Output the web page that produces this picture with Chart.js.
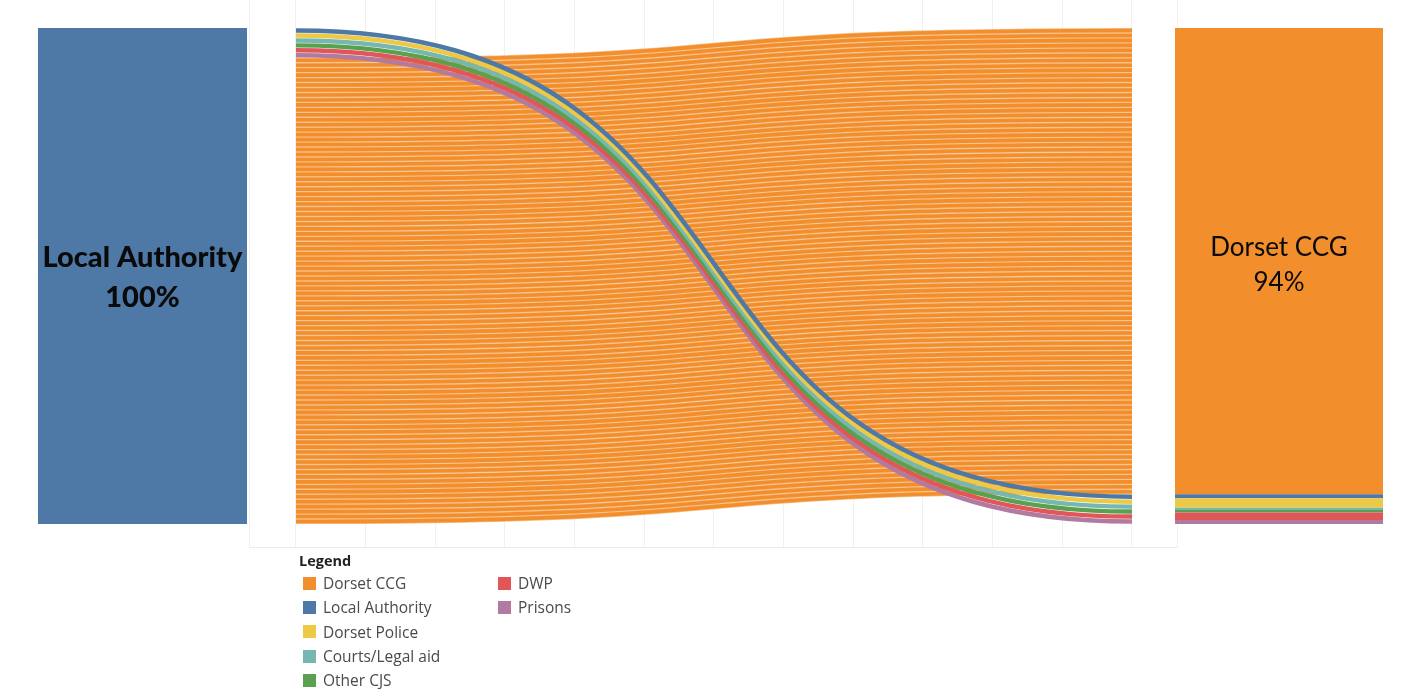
<!DOCTYPE html>
<html>
<head>
<meta charset="utf-8">
<script src="https://cdn.jsdelivr.net/npm/chart.js@4.4.1/dist/chart.umd.min.js"></script>
<style>
  html, body { margin: 0; padding: 0; background: #ffffff; }
  #wrap { position: relative; width: 1423px; height: 689px; overflow: hidden; }
  #c { position: absolute; left: 0; top: 0; }
  #legend { position: absolute; left: 299px; top: 551px; font-family: "Open Sans", "Noto Sans", sans-serif; color: #4a4a4a; }
  #legend .title { font-weight: bold; color: #222; font-size: 14.5px; height: 20px; line-height: 20px; }
  #legend .cols { display: flex; }
  #legend .col { width: 195px; }
  #legend .item { height: 24.3px; line-height: 24.3px; font-size: 15.5px; white-space: nowrap; display: flex; align-items: center; }
  #legend .sw { width: 13px; height: 13px; margin: 0 7px 0 4px; flex: none; }
</style>
</head>
<body>
<div id="wrap">
  <canvas id="c" width="1423" height="689"></canvas>
  <div id="legend"></div>
</div>
<script>
// ---------------- DATA ----------------
const sourceName = 'Local Authority';
const sourceShare = 100;                       // % of spend at the source node
const destinations = ['Dorset CCG', 'Local Authority', 'Dorset Police', 'Courts/Legal aid', 'Other CJS', 'DWP', 'Prisons'];
const destinationShares = [94.0, 0.8, 1.9, 0.5, 0.5, 1.5, 0.8];   // % of spend, read from right-hand stack
const flowLineCounts = [94, 1, 1, 1, 1, 1, 1];                   // number of flow strands drawn per destination
const leftOrder = [1, 2, 3, 4, 5, 6, 0];       // top-to-bottom strand order at the source
const rightOrder = [0, 1, 2, 3, 4, 5, 6];      // top-to-bottom order at the destinations
const legendColumns = [[0, 1, 2, 3, 4], [5, 6]];
const labelTexts = { source: ['Local Authority', '100%'], dest: ['Dorset CCG', '94%'] };

// ---------------- STYLE / LAYOUT ----------------
const colors = ['#f28e2b', '#4e79a7', '#edc948', '#76b7b2', '#59a14f', '#e15759', '#b07aa1'];
const stripeGapColor = '#f7bd84';
const sourceColor = '#4e79a7';
const FLOW_X0 = 0, FLOW_X1 = 12;               // flow spans 12 grid columns
const SRC_X = [-3.703, -0.703];
const DST_X = [12.617, 15.603];
const PANE_X = [-0.66, 12.66];

// ---------------- DATASETS ----------------
const datasets = [];
datasets.push({
  label: sourceName,
  data: [{ x: SRC_X[0], y: sourceShare }, { x: SRC_X[1], y: sourceShare }],
  fill: { value: 0 },
  backgroundColor: sourceColor,
  borderColor: sourceColor,
  borderWidth: 0,
  pointRadius: 0,
  tension: 0
});
// right stack, built from the bottom upwards
let lower = 0;
const segBounds = {};
for (let i = rightOrder.length - 1; i >= 0; i--) {
  const d = rightOrder[i];
  const upper = lower + destinationShares[d];
  segBounds[d] = [lower, upper];
  datasets.push({
    label: destinations[d],
    data: [{ x: DST_X[0], y: upper }, { x: DST_X[1], y: upper }],
    fill: { value: lower },
    backgroundColor: colors[d],
    borderColor: colors[d],
    borderWidth: 0,
    pointRadius: 0,
    tension: 0
  });
  lower = upper;
}

// ---------------- PLUGINS ----------------
function slotPositions(order) {
  const total = flowLineCounts.reduce((a, b) => a + b, 0);
  const unit = sourceShare / total;
  const pos = {};
  let k = 0;
  order.forEach(d => {
    pos[d] = [];
    for (let j = 0; j < flowLineCounts[d]; j++) {
      pos[d].push(sourceShare - (k + 0.5) * unit);
      k++;
    }
  });
  return { pos, unit };
}

const linkPlugin = {
  id: 'sankeyLinks',
  beforeDatasetsDraw(chart) {
    const { ctx, scales: { x, y } } = chart;
    const L = slotPositions(leftOrder), R = slotPositions(rightOrder);
    const px0 = x.getPixelForValue(FLOW_X0), px1 = x.getPixelForValue(FLOW_X1);
    const w = px1 - px0;
    const pitch = Math.abs(y.getPixelForValue(0) - y.getPixelForValue(L.unit));
    ctx.save();
    ctx.lineCap = 'butt';
    function strand(d, j) {
      const y0 = y.getPixelForValue(L.pos[d][j]);
      const y1 = y.getPixelForValue(R.pos[d][j]);
      ctx.beginPath();
      ctx.moveTo(px0, y0);
      ctx.bezierCurveTo(px0 + 0.6 * w, y0, px1 - 0.6 * w, y1, px1, y1);
      ctx.stroke();
    }
    // pale underlay for the main flow so the gaps read as light orange
    ctx.strokeStyle = stripeGapColor;
    ctx.lineWidth = pitch * 1.05;
    for (let j = 0; j < flowLineCounts[0]; j++) strand(0, j);
    ctx.strokeStyle = colors[0];
    ctx.lineWidth = pitch * 0.72;
    for (let j = 0; j < flowLineCounts[0]; j++) strand(0, j);
    // small flows on top
    [6, 5, 4, 3, 2, 1].forEach(d => {
      ctx.strokeStyle = colors[d];
      ctx.lineWidth = pitch * 0.9;
      for (let j = 0; j < flowLineCounts[d]; j++) strand(d, j);
    });
    // bottom pane line
    ctx.strokeStyle = '#ececec';
    ctx.lineWidth = 1;
    const by = Math.round(chart.chartArea.bottom) - 0.5;
    ctx.beginPath();
    ctx.moveTo(x.getPixelForValue(PANE_X[0]), by);
    ctx.lineTo(x.getPixelForValue(PANE_X[1]), by);
    ctx.stroke();
    ctx.restore();
  }
};

const labelPlugin = {
  id: 'nodeLabels',
  afterDatasetsDraw(chart) {
    const { ctx, scales: { x, y } } = chart;
    ctx.save();
    ctx.textAlign = 'center';
    ctx.textBaseline = 'middle';
    ctx.fillStyle = '#0a0a0a';
    // source label
    const sx = x.getPixelForValue((SRC_X[0] + SRC_X[1]) / 2);
    const sy = y.getPixelForValue(sourceShare / 2);
    ctx.font = '900 29px Lato, "Open Sans", sans-serif';
    ctx.fillText(labelTexts.source[0], sx, sy - 18);
    ctx.fillText(labelTexts.source[1], sx, sy + 22);
    // destination label
    const dx = x.getPixelForValue((DST_X[0] + DST_X[1]) / 2);
    const b = segBounds[0];
    const dy = y.getPixelForValue((b[0] + b[1]) / 2);
    ctx.font = '26px Lato, "Open Sans", sans-serif';
    ctx.fillText(labelTexts.dest[0], dx, dy - 14);
    ctx.fillText(labelTexts.dest[1], dx, dy + 21);
    ctx.restore();
  }
};

// ---------------- CHART ----------------
const PX_PER_UNIT = 4.96;
new Chart(document.getElementById('c'), {
  type: 'line',
  data: { datasets },
  options: {
    responsive: false,
    animation: false,
    devicePixelRatio: 1,
    layout: { padding: { left: 38, right: 40, top: 0, bottom: 141 } },
    plugins: { legend: { display: false }, tooltip: { enabled: false } },
    scales: {
      x: {
        type: 'linear',
        min: SRC_X[0],
        max: DST_X[1],
        afterBuildTicks(scale) {
          const t = [{ value: PANE_X[0] }];
          for (let v = FLOW_X0; v <= FLOW_X1; v++) t.push({ value: v });
          t.push({ value: PANE_X[1] });
          scale.ticks = t;
        },
        ticks: { display: false },
        grid: { color: '#f0f0f0', drawTicks: false, lineWidth: 1 },
        border: { display: false }
      },
      y: {
        type: 'linear',
        display: false,
        min: -24 / PX_PER_UNIT,
        max: 100 + 28 / PX_PER_UNIT
      }
    }
  },
  plugins: [linkPlugin, labelPlugin]
});

// ---------------- LEGEND (HTML) ----------------
const lg = document.getElementById('legend');
let html = '<div class="title">Legend</div><div class="cols">';
legendColumns.forEach(col => {
  html += '<div class="col">';
  col.forEach(d => {
    html += '<div class="item"><span class="sw" style="background:' + colors[d] + '"></span>' + destinations[d] + '</div>';
  });
  html += '</div>';
});
html += '</div>';
lg.innerHTML = html;
</script>
</body>
</html>
